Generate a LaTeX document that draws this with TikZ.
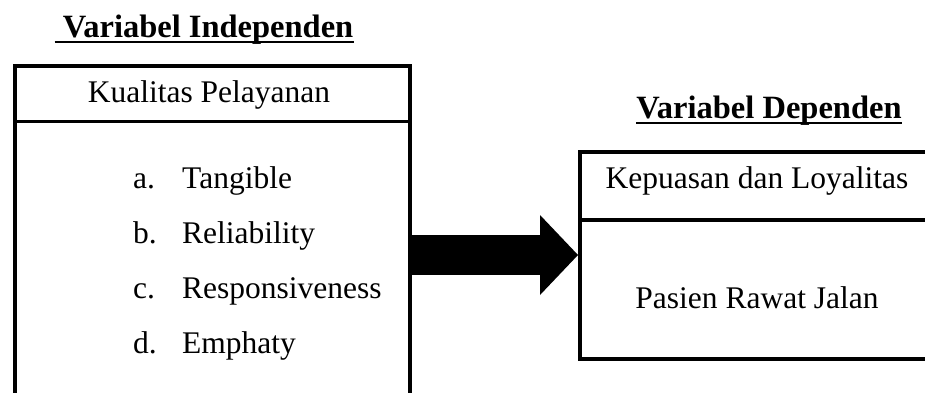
\documentclass[tikz,border=0pt]{standalone}
\usepackage{fontspec}
\setmainfont{Liberation Serif}
\usetikzlibrary{positioning, arrows.meta}

\begin{document}
\begin{tikzpicture}[x=1pt, y=-1pt,
    box/.style={draw, line width=4pt, inner sep=0pt, anchor=north west},
    kop/.style={inner sep=0pt, anchor=north west},
    txt/.style={font=\fontsize{31.5}{38}\selectfont, inner sep=0pt, anchor=base},
    judul/.style={font=\fontsize{32.5}{39}\selectfont\bfseries, inner sep=0pt, anchor=base}]
    \clip (0,0) rectangle (925,392);

    % Independent variable
    \node (judulind) [judul] at (204,37) {~Variabel Independen};
    \draw[line width=2.5pt] ([yshift=-5pt]judulind.base west) -- ([yshift=-5pt]judulind.base east);
    \node (indep) [box, minimum width=395pt, minimum height=360pt] at (13,64) {};
    \node (kualitas) [kop, minimum width=395pt, minimum height=57pt] at (13,64) {};
    \draw[line width=3pt] (kualitas.south west) -- (kualitas.south east);
    \node (kualitastxt) [txt] at (209,102) {Kualitas Pelayanan};

    % Indicators
    \foreach \lbl/\entry [count=\i] in {a./Tangible, b./Reliability, c./Responsiveness, d./Emphaty} {
        \node (lbl\i) [txt, anchor=base west] at (133, 133+55*\i) {\lbl};
        \node (entry\i) [txt, anchor=base west] at (182, 133+55*\i) {\entry};
    }

    % Dependent variable
    \node (juduldep) [judul] at (769,118) {Variabel Dependen};
    \draw[line width=2.5pt] ([yshift=-5pt]juduldep.base west) -- ([yshift=-5pt]juduldep.base east);
    \node (dep) [box, minimum width=360pt, minimum height=207pt] at (578,150) {};
    \node (kepuasan) [kop, minimum width=360pt, minimum height=70pt] at (578,150) {};
    \draw[line width=4pt] (kepuasan.south west) -- (kepuasan.south east);
    \node (kepuasantxt) [txt] at (757,188) {Kepuasan dan Loyalitas};
    \node (pasientxt) [txt] at (757,308) {Pasien Rawat Jalan};

    % Arrow
    \coordinate (mid) at (0,255);
    \draw[line width=40pt, -{Triangle[length=38pt, width=80pt, line width=0pt]}]
        (indep.east |- mid) -- (dep.west |- mid);
\end{tikzpicture}
\end{document}
